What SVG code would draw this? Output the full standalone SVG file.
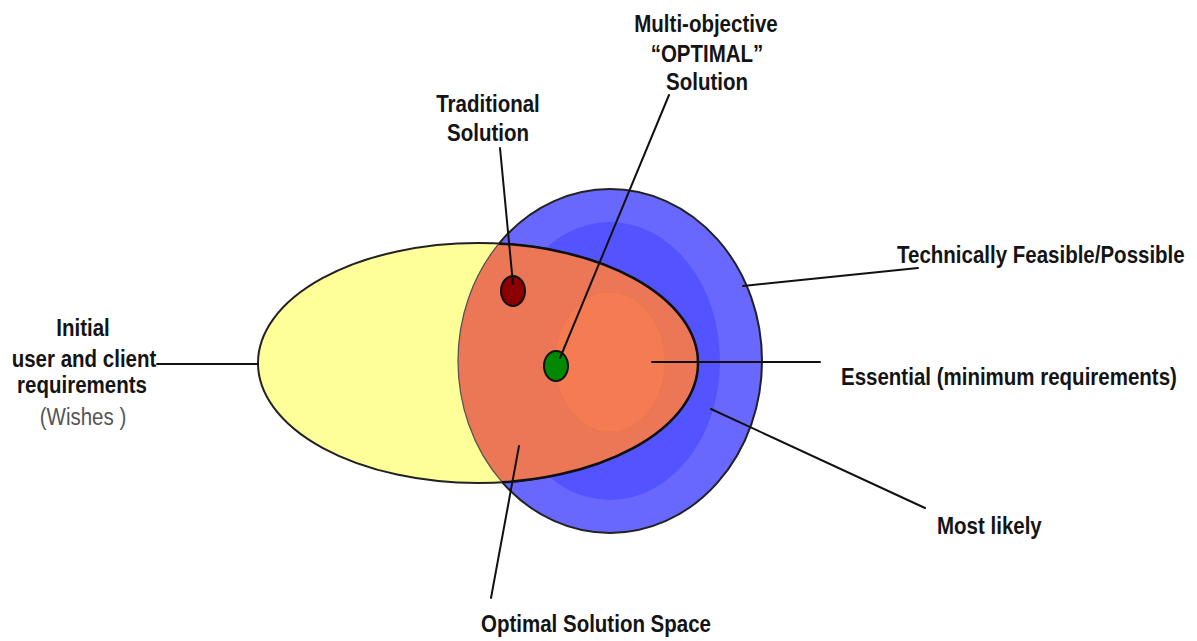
<svg xmlns="http://www.w3.org/2000/svg" width="1197" height="641" viewBox="0 0 1197 641">
<style>
.lbl{font-family:"Liberation Sans",Arial,sans-serif;font-weight:bold;font-size:20.5px;fill:#141414;text-anchor:middle}
.lbll{font-family:"Liberation Sans",Arial,sans-serif;font-weight:bold;font-size:20.5px;fill:#141414}
.sub{font-family:"Liberation Sans",Arial,sans-serif;font-size:20.5px;fill:#555;text-anchor:middle}
.conn{stroke:#111;stroke-width:2;fill:none;stroke-linecap:round}
</style>
<defs>
<clipPath id="clipBlue"><ellipse cx="610" cy="361" rx="152" ry="172"/></clipPath>
<clipPath id="clipYellow"><ellipse cx="478" cy="363" rx="220" ry="120"/></clipPath>
</defs>
<rect width="1197" height="641" fill="#fff"/>
<g id="feasible">
<ellipse cx="610" cy="361" rx="152" ry="172" fill="#6868FF" stroke="#222" stroke-width="2"/>
</g>
<g id="most-likely">
<ellipse cx="610" cy="361" rx="110" ry="139" fill="#5353FF"/>
</g>
<g id="wishes">
<ellipse cx="478" cy="363" rx="220" ry="120" fill="#FFFF99" stroke="#222" stroke-width="2"/>
</g>
<g id="optimal-space">
<ellipse cx="478" cy="363" rx="220" ry="120" fill="#EA7052" fill-opacity="0.95" clip-path="url(#clipBlue)"/>
<ellipse cx="610" cy="361" rx="152" ry="172" fill="none" stroke="#555" stroke-width="1.3" clip-path="url(#clipYellow)"/>
<ellipse cx="478" cy="363" rx="220" ry="120" fill="none" stroke="#111" stroke-width="2.5" clip-path="url(#clipBlue)"/>
</g>
<g id="essential">
<ellipse cx="610" cy="362" rx="55" ry="70" fill="#F57C52" stroke="#EE7650" stroke-width="1.5"/>
</g>
<g id="traditional-dot">
<ellipse cx="513" cy="291" rx="12" ry="15" fill="#8B0000" stroke="#111" stroke-width="2"/>
</g>
<g id="optimal-dot">
<ellipse cx="556" cy="366" rx="12" ry="15" fill="#008800" stroke="#111" stroke-width="2"/>
</g>
<g id="connectors">
<line class="conn" x1="500" y1="148" x2="513" y2="284"/>
<line class="conn" x1="669" y1="95" x2="560" y2="358"/>
<line class="conn" x1="743" y1="286" x2="918" y2="268"/>
<line class="conn" x1="652" y1="362" x2="820" y2="362"/>
<line class="conn" x1="711" y1="409" x2="925" y2="508"/>
<line class="conn" x1="519" y1="446" x2="491" y2="598"/>
<line class="conn" x1="157" y1="364" x2="258" y2="364"/>
</g>
<g id="labels">
<text class="lbl" transform="translate(706,32) scale(1,1.15)">Multi-objective</text>
<text class="lbl" transform="translate(707,62) scale(1,1.15)">“OPTIMAL”</text>
<text class="lbl" transform="translate(707,90) scale(1,1.15)">Solution</text>
<text class="lbl" transform="translate(488,112) scale(1,1.15)">Traditional</text>
<text class="lbl" transform="translate(488,141) scale(1,1.15)">Solution</text>
<text class="lbll" transform="translate(897,263) scale(1,1.15)">Technically Feasible/Possible</text>
<text class="lbll" transform="translate(841,385) scale(1,1.15)">Essential (minimum requirements)</text>
<text class="lbll" transform="translate(937,534) scale(1,1.15)">Most likely</text>
<text class="lbl" transform="translate(596,632) scale(1,1.15)">Optimal Solution Space</text>
<text class="lbl" transform="translate(83,336) scale(1,1.15)">Initial</text>
<text class="lbl" transform="translate(84,367) scale(1,1.15)">user and client</text>
<text class="lbl" transform="translate(82,393) scale(1,1.15)">requirements</text>
<text class="sub" transform="translate(83,425) scale(1,1.15)">(Wishes )</text>
</g>
</svg>
